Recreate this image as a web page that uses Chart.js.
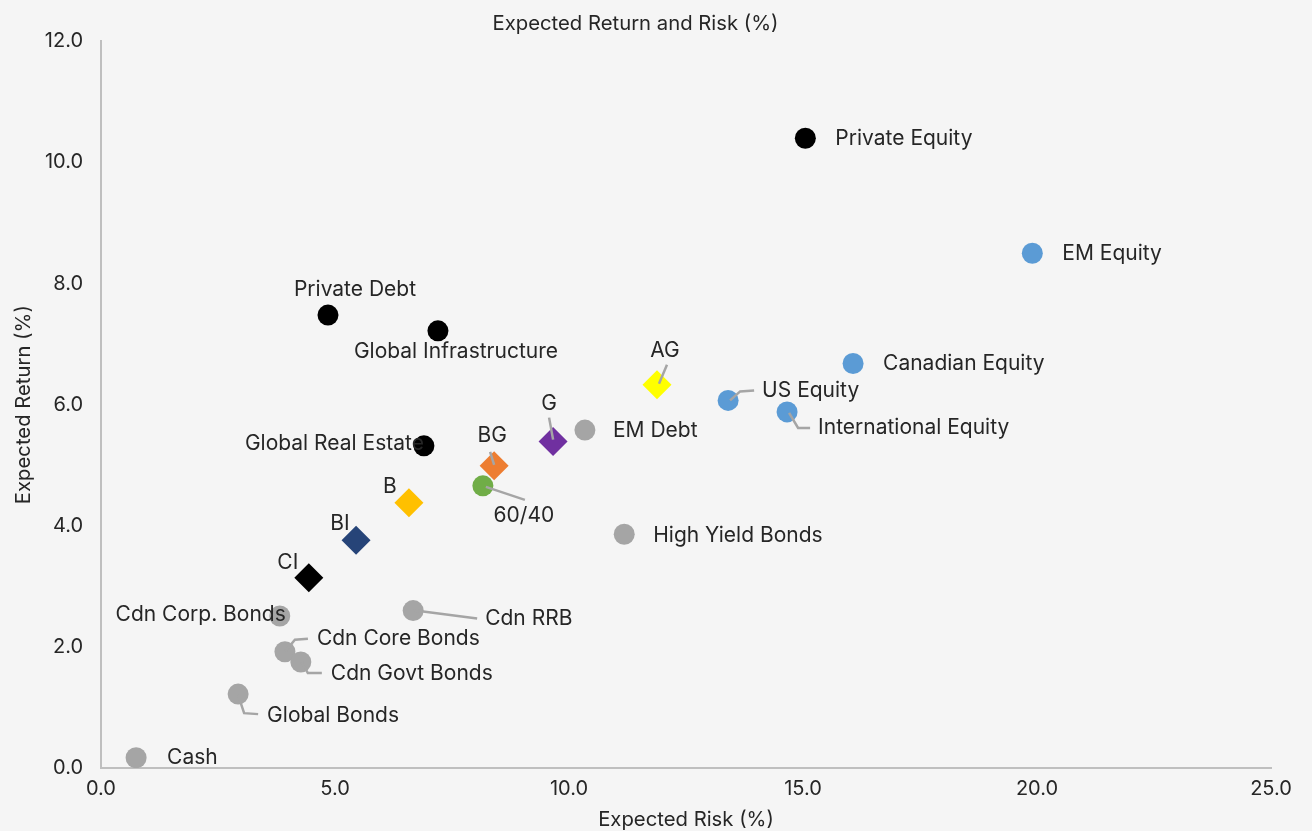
<!DOCTYPE html>
<html>
<head>
<meta charset="utf-8">
<script src="https://cdn.jsdelivr.net/npm/chart.js@4.4.1/dist/chart.umd.min.js"></script>
<style>
  html, body { margin: 0; padding: 0; background: #f5f5f5; }
  #wrap { width: 1312px; height: 831px; }
</style>
</head>
<body>
<div id="wrap"><canvas id="c" width="1312" height="831"></canvas></div>
<script>
// ---------- DATA ----------
const privateNames  = ['Private Equity', 'Private Debt', 'Global Infrastructure', 'Global Real Estate'];
const privateRisk   = [15.05, 4.85, 7.2, 6.9];
const privateReturn = [10.4, 7.48, 7.22, 5.32];

const equityNames  = ['EM Equity', 'Canadian Equity', 'US Equity', 'International Equity'];
const equityRisk   = [19.9, 16.07, 13.4, 14.66];
const equityReturn = [8.5, 6.68, 6.07, 5.88];

const fixedNames  = ['EM Debt', 'High Yield Bonds', 'Cdn Corp. Bonds', 'Cdn RRB', 'Cdn Core Bonds', 'Cdn Govt Bonds', 'Global Bonds', 'Cash'];
const fixedRisk   = [10.34, 11.18, 3.82, 6.67, 3.93, 4.27, 2.93, 0.75];
const fixedReturn = [5.58, 3.86, 2.51, 2.6, 1.92, 1.75, 1.22, 0.17];

const balancedNames  = ['60/40'];
const balancedRisk   = [8.16];
const balancedReturn = [4.66];

const portfolioNames  = ['AG', 'G', 'BG', 'B', 'BI', 'CI'];
const portfolioRisk   = [11.88, 9.66, 8.4, 6.58, 5.45, 4.44];
const portfolioReturn = [6.33, 5.39, 4.99, 4.38, 3.76, 3.14];

const xTicks = [0, 5, 10, 15, 20, 25];
const yTicks = [0, 2, 4, 6, 8, 10, 12];

// ---------- STYLES ----------
const FONT = 'Inter, "Noto Sans", sans-serif';
const FS_LABEL = 21;
const FS_TITLE = 20.3;
const FS_TICK = 20;
const TXT = '#262626';
const LEADER = '#a5a5a5';
const portfolioColors = ['#ffff00', '#7030a0', '#ed7d31', '#ffc000', '#264478', '#000000'];

// label placement (pixel offsets from the marker), leader polylines
const labelPos = {
  'Private Equity':        { dx: 30, dy: 0, align: 'left' },
  'EM Equity':             { dx: 30, dy: 0, align: 'left' },
  'Private Debt':          { dx: 27, dy: -25, align: 'center' },
  'Global Infrastructure': { dx: 18, dy: 21, align: 'center' },
  'Canadian Equity':       { dx: 30, dy: 0, align: 'left' },
  'AG':                    { dx: 8, dy: -34, align: 'center', leader: [[10, -20], [2, -1]] },
  'US Equity':             { dx: 34, dy: -10, align: 'left', leader: [[2, 0], [12, -9], [26, -10]] },
  'International Equity':  { dx: 31, dy: 16, align: 'left', leader: [[2, 1], [11, 16], [23, 16]] },
  'EM Debt':               { dx: 28, dy: 1, align: 'left' },
  'G':                     { dx: -4, dy: -38, align: 'center', leader: [[-4, -24], [0, -2]] },
  'Global Real Estate':    { dx: 0, dy: -2, align: 'right' },
  'BG':                    { dx: -2, dy: -30, align: 'center', leader: [[-4, -14], [0, -1]] },
  '60/40':                 { dx: 41, dy: 30, align: 'center', leader: [[3, 1], [42, 14]] },
  'B':                     { dx: -19, dy: -16, align: 'center' },
  'BI':                    { dx: -16, dy: -17, align: 'center' },
  'CI':                    { dx: -21, dy: -15, align: 'center' },
  'High Yield Bonds':      { dx: 29, dy: 1, align: 'left' },
  'Cdn Corp. Bonds':       { dx: 6, dy: -1, align: 'right' },
  'Cdn RRB':               { dx: 72, dy: 8, align: 'left', leader: [[0, 0], [10, 1], [64, 8]] },
  'Cdn Core Bonds':        { dx: 32, dy: -13, align: 'left', leader: [[0, 0], [10, -12], [23, -13]] },
  'Cdn Govt Bonds':        { dx: 30, dy: 12, align: 'left', leader: [[1, 0], [7, 11], [21, 11]] },
  'Global Bonds':          { dx: 29, dy: 22, align: 'left', leader: [[0, 1], [6, 19], [20, 20]] },
  'Cash':                  { dx: 31, dy: 0, align: 'left' }
};

function pts(xs, ys) { return xs.map((x, i) => ({ x: x, y: ys[i] })); }

const datasets = [
  { label: 'Fixed income', names: fixedNames, data: pts(fixedRisk, fixedReturn),
    backgroundColor: '#a5a5a5', borderColor: '#a5a5a5', pointStyle: 'circle', pointRadius: 10.5, borderWidth: 0 },
  { label: 'Private assets', names: privateNames, data: pts(privateRisk, privateReturn),
    backgroundColor: '#000000', borderColor: '#000000', pointStyle: 'circle', pointRadius: 10.5, borderWidth: 0 },
  { label: 'Equity', names: equityNames, data: pts(equityRisk, equityReturn),
    backgroundColor: '#5b9bd5', borderColor: '#5b9bd5', pointStyle: 'circle', pointRadius: 10.5, borderWidth: 0 },
  { label: '60/40', names: balancedNames, data: pts(balancedRisk, balancedReturn),
    backgroundColor: '#70ad47', borderColor: '#70ad47', pointStyle: 'circle', pointRadius: 10.5, borderWidth: 0 },
  { label: 'Portfolios', names: portfolioNames, data: pts(portfolioRisk, portfolioReturn),
    backgroundColor: portfolioColors, borderColor: portfolioColors, pointStyle: 'rectRot', pointRadius: 14.5, borderWidth: 0 }
];

const labelPlugin = {
  id: 'pointLabels',
  afterDatasetsDraw(chart) {
    const ctx = chart.ctx;
    ctx.save();
    chart.data.datasets.forEach((ds, di) => {
      const meta = chart.getDatasetMeta(di);
      meta.data.forEach((el, i) => {
        const name = ds.names[i];
        const p = labelPos[name];
        if (!p) return;
        if (p.leader) {
          ctx.beginPath();
          ctx.strokeStyle = LEADER;
          ctx.lineWidth = 2.5;
          p.leader.forEach((q, k) => {
            const px = el.x + q[0], py = el.y + q[1];
            if (k === 0) ctx.moveTo(px, py); else ctx.lineTo(px, py);
          });
          ctx.stroke();
        }
        ctx.fillStyle = TXT;
        ctx.font = FS_LABEL + 'px ' + FONT;
        ctx.textAlign = p.align;
        ctx.textBaseline = 'middle';
        ctx.fillText(name, el.x + p.dx, el.y + p.dy);
      });
    });
    ctx.restore();
  }
};

new Chart(document.getElementById('c'), {
  type: 'scatter',
  data: { datasets: datasets },
  options: {
    responsive: false,
    animation: false,
    layout: { padding: { top: 0, right: 41, bottom: 0, left: 0 } },
    plugins: {
      legend: { display: false },
      tooltip: { enabled: false },
      title: {
        display: true,
        text: 'Expected Return and Risk (%)',
        color: TXT,
        font: { family: FONT, size: FS_TITLE, weight: 'normal' },
        padding: { top: 12, bottom: 5 }
      }
    },
    scales: {
      x: {
        type: 'linear',
        min: 0, max: 25,
        afterBuildTicks(scale) { scale.ticks = xTicks.map(v => ({ value: v })); },
        afterFit(scale) { scale.height = 63; },
        grid: { display: false, drawTicks: false },
        border: { display: true, color: '#bfbfbf', width: 2 },
        ticks: {
          padding: 9, color: TXT,
          font: { family: FONT, size: FS_TICK },
          callback: v => Number(v).toFixed(1)
        },
        title: {
          display: true, text: 'Expected Risk (%)', color: TXT,
          font: { family: FONT, size: FS_TITLE }, padding: { top: 0, bottom: -1 }
        }
      },
      y: {
        type: 'linear',
        min: 0, max: 12,
        afterBuildTicks(scale) { scale.ticks = yTicks.map(v => ({ value: v })); },
        afterFit(scale) { scale.width = 101; },
        grid: { display: false, drawTicks: false },
        border: { display: true, color: '#bfbfbf', width: 2 },
        ticks: {
          padding: 18, color: TXT,
          font: { family: FONT, size: FS_TICK },
          callback: v => Number(v).toFixed(1)
        },
        title: {
          display: true, text: 'Expected Return (%)', color: TXT,
          font: { family: FONT, size: FS_TITLE }, padding: { top: 12, bottom: 0 }
        }
      }
    }
  },
  plugins: [labelPlugin]
});
</script>
</body>
</html>
